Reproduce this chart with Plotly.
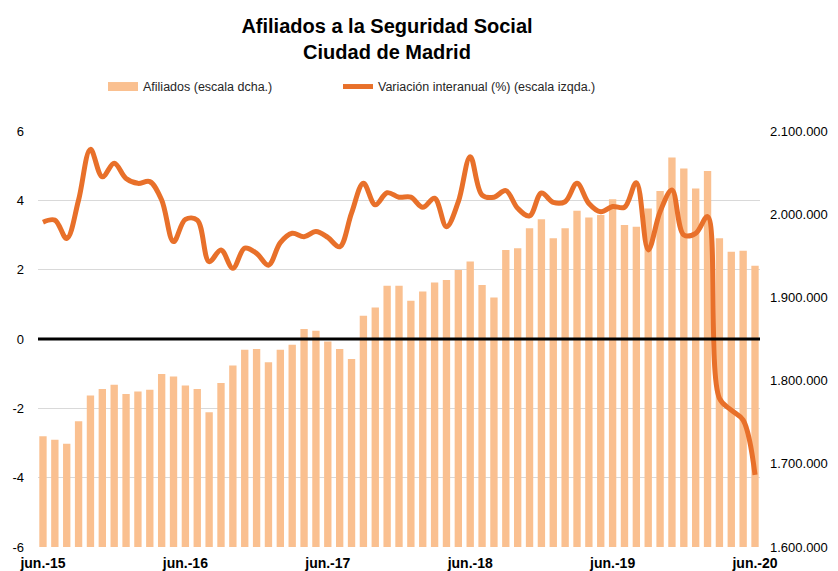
import plotly.graph_objects as go

# ---- data -------------------------------------------------------------
month_names = ["jun.", "jul.", "ago.", "sep.", "oct.", "nov.", "dic.",
               "ene.", "feb.", "mar.", "abr.", "may."]
start_year = 15
n_months = 61
meses = []
for i in range(n_months):
    m = i % 12
    yr = start_year + (i + 5) // 12
    meses.append(f"{month_names[m]}-{yr:02d}")

afiliados = [1733000, 1729000, 1724000, 1751000, 1782000, 1790000, 1795000, 1784000, 1787000, 1789000,
             1808000, 1805000, 1794000, 1790000, 1762000, 1797000, 1818000, 1837000, 1838000, 1822000,
             1837000, 1843000, 1862000, 1860000, 1847000, 1838000, 1826000, 1878000, 1888000, 1914000,
             1914000, 1896000, 1907000, 1918000, 1921000, 1933000, 1943000, 1915000, 1900000, 1957000,
             1959000, 1983000, 1994000, 1971000, 1983000, 2004000, 1996000, 1999000, 2018000, 1987000,
             1985000, 2007000, 2028000, 2068000, 2055000, 2031000, 2052000, 1971000, 1955000, 1956000,
             1938000]

variacion = [3.37, 3.43, 2.90, 4.01, 5.47, 4.68, 5.07, 4.63, 4.49, 4.54,
             4.01, 2.81, 3.45, 3.43, 2.23, 2.57, 2.04, 2.62, 2.47, 2.13,
             2.78, 3.05, 2.95, 3.10, 2.93, 2.66, 3.63, 4.49, 3.87, 4.22,
             4.09, 4.09, 3.80, 4.06, 3.24, 3.96, 5.26, 4.15, 4.09, 4.28,
             3.77, 3.55, 4.21, 3.94, 3.96, 4.49, 3.91, 3.67, 3.82, 3.80,
             4.51, 2.57, 3.67, 4.30, 3.00, 3.05, 3.53, -1.71, -2.05, -2.34,
             -3.92]

x_tick_vals = [meses[i] for i in range(0, n_months, 12)]
x_tick_text = ["jun.-15", "jun.-16", "jun.-17", "jun.-18", "jun.-19", "jun.-20"]
left_tick_vals = [-6, -4, -2, 0, 2, 4, 6]
left_tick_text = ["-6", "-4", "-2", "0", "2", "4", "6"]
right_tick_vals = [1600000, 1700000, 1800000, 1900000, 2000000, 2100000]
right_tick_text = ["1.600.000", "1.700.000", "1.800.000", "1.900.000", "2.000.000", "2.100.000"]

FONT = "Liberation Sans, Arial, sans-serif"
BAR_COLOR = "#FAC090"
LINE_COLOR = "#E8702A"

fig = go.Figure()
fig.add_trace(go.Bar(
    x=meses, y=afiliados, name="Afiliados (escala dcha.)",
    marker=dict(color=BAR_COLOR, line=dict(width=0)),
    yaxis="y", showlegend=False,
))
# legend-only entry giving the wide flat swatch of the bar series
fig.add_trace(go.Scatter(
    x=[None], y=[None], name="Afiliados (escala dcha.)",
    mode="lines", line=dict(color=BAR_COLOR, width=9),
    yaxis="y", legend="legend", showlegend=True, hoverinfo="skip",
))
fig.add_trace(go.Scatter(
    x=meses, y=variacion, name="Variación interanual (%) (escala izqda.)",
    mode="lines", line=dict(color=LINE_COLOR, width=5, shape="spline", smoothing=1.0),
    yaxis="y2", legend="legend2", showlegend=True,
))

fig.add_shape(type="line", xref="paper", x0=0, x1=1, yref="y2", y0=0, y1=0,
              line=dict(color="black", width=3), layer="above")

legend_font = dict(family=FONT, size=12.5, color="#262626")
fig.update_layout(
    width=838, height=571,
    margin=dict(l=38, r=78, t=131, b=24),
    paper_bgcolor="white", plot_bgcolor="white",
    font=dict(family=FONT, color="black", size=13),
    bargap=0.38,
    title=dict(text="<b>Afiliados a la Seguridad Social<br>Ciudad de Madrid</b>",
               x=387 / 838, xanchor="center", y=1 - 33 / 571, yanchor="top",
               font=dict(family=FONT, size=20, color="black")),
    legend=dict(orientation="h", x=(103 - 38) / 722, xanchor="left", y=1.106, yanchor="middle",
                font=legend_font, bgcolor="rgba(0,0,0,0)"),
    legend2=dict(orientation="h", x=(338 - 38) / 722, xanchor="left", y=1.106, yanchor="middle",
                 font=legend_font, bgcolor="rgba(0,0,0,0)"),
    xaxis=dict(type="category", categoryorder="array", categoryarray=meses,
               range=[-0.42, n_months - 1 + 0.42], automargin=False,
               tickmode="array", tickvals=x_tick_vals, ticktext=[f"<b>{t}</b>" for t in x_tick_text],
               tickfont=dict(family=FONT, size=14, color="black"),
               showgrid=False, zeroline=False, showline=False, ticks="", ticklabelstandoff=6),
    yaxis=dict(side="right", range=[1600000, 2100000], automargin=False,
               tickmode="array", tickvals=right_tick_vals, ticktext=right_tick_text,
               tickfont=dict(family=FONT, size=13, color="black"),
               showgrid=False, zeroline=False, showline=False, ticks="", ticklabelstandoff=9),
    yaxis2=dict(side="left", overlaying="y", range=[-6, 6], automargin=False,
                tickmode="array", tickvals=left_tick_vals, ticktext=left_tick_text,
                tickfont=dict(family=FONT, size=13, color="black"),
                showgrid=True, gridcolor="#D9D9D9", gridwidth=1,
                zeroline=False, showline=False, ticks="", ticklabelstandoff=13),
)

fig.write_html("out.html", config={"displayModeBar": False},
               post_script="document.body.style.margin='0px';document.body.style.overflow='hidden';")
